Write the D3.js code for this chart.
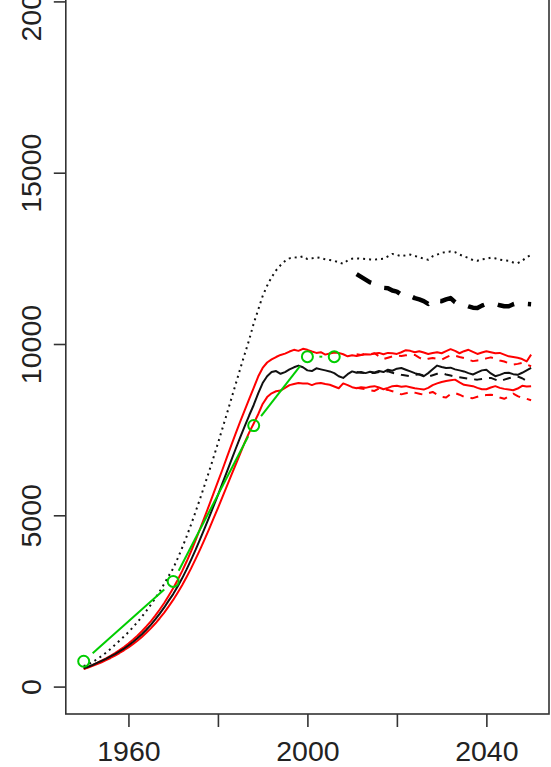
<!DOCTYPE html>
<html>
<head>
<meta charset="utf-8">
<script src="https://cdn.jsdelivr.net/npm/d3@7"></script>
<style>
  html, body { margin: 0; padding: 0; background: #fff; }
  svg { display: block; }
</style>
</head>
<body>
<svg id="chart" width="551" height="767"></svg>
<script>
// ---------- DATA ----------
const yearsAll = d3.range(1950, 2051);      // 1950..2050
const yearsProj = d3.range(2011, 2051);     // 2011..2050

const centralSolid = [
  530, 580, 630, 690, 750, 810, 880, 950, 1030, 1110,
  1200, 1300, 1410, 1530, 1660, 1800, 1960, 2130, 2310, 2510,
  2700, 2920, 3160, 3420, 3700, 3990, 4300, 4610, 4930, 5260,
  5590, 5930, 6270, 6610, 6950, 7280, 7600, 7920, 8220, 8560,
  8860, 9060, 9180, 9210, 9130, 9180, 9260, 9320, 9370, 9320,
  9230, 9210, 9290, 9260, 9230, 9200, 9150, 9060, 9010, 9120,
  9200, 9160, 9180, 9150, 9190, 9170, 9210, 9180, 9250, 9220,
  9280, 9300, 9250, 9200, 9150, 9110, 9060, 9150, 9260, 9370,
  9330, 9300, 9310, 9260, 9230, 9200, 9150, 9110, 9170, 9230,
  9250, 9140, 9060, 9100, 9150, 9160, 9120, 9100, 9160, 9230,
  9300
];

const upperSolid = [
  520, 570, 625, 690, 755, 825, 900, 980, 1065, 1155,
  1255, 1365, 1485, 1615, 1755, 1905, 2070, 2250, 2440, 2650,
  2870, 3110, 3370, 3650, 3950, 4270, 4600, 4940, 5280, 5630,
  5980, 6330, 6690, 7050, 7400, 7740, 8070, 8400, 8720, 9050,
  9300, 9460, 9550, 9620, 9680, 9720, 9780, 9830, 9800, 9860,
  9830, 9780, 9740, 9760, 9690, 9720, 9750, 9740, 9700, 9640,
  9670, 9650, 9680, 9700, 9690, 9720, 9740, 9700, 9740, 9730,
  9710, 9760, 9820, 9800, 9760, 9790, 9750, 9710, 9740, 9760,
  9730, 9790, 9850, 9800, 9730, 9790, 9830, 9770, 9710, 9750,
  9790, 9760, 9730, 9740, 9690, 9640, 9620, 9600, 9560, 9490,
  9690
];

const lowerSolid = [
  510, 555, 605, 655, 710, 770, 835, 905, 980, 1060,
  1145, 1240, 1340, 1450, 1570, 1700, 1840, 1995, 2160, 2340,
  2530, 2740, 2960, 3200, 3450, 3720, 4000, 4290, 4590, 4900,
  5210, 5530, 5850, 6170, 6490, 6810, 7130, 7420, 7680, 7950,
  8250, 8450, 8560, 8620, 8640, 8720, 8800, 8830, 8860, 8850,
  8850, 8800, 8850, 8860, 8830, 8810, 8760, 8710, 8850, 8800,
  8740, 8710, 8740, 8720, 8750, 8770, 8730, 8680, 8720, 8770,
  8780, 8750, 8770, 8740, 8710, 8690, 8670, 8720, 8800, 8850,
  8890, 8920, 8940, 8960, 8880, 8810, 8790, 8770, 8720, 8680,
  8680, 8730, 8770, 8720, 8690, 8670, 8650, 8700, 8780, 8760,
  8770
];

const upperBound = [
  600, 650, 720, 800, 890, 990, 1100, 1220, 1340, 1460,
  1590, 1730, 1880, 2040, 2210, 2390, 2580, 2780, 3000, 3230,
  3450, 3740, 4050, 4380, 4730, 5100, 5480, 5870, 6270, 6680,
  7100, 7530, 7960, 8400, 8840, 9280, 9710, 10130, 10600, 11000,
  11400, 11700, 11950, 12150, 12300, 12420, 12500, 12530, 12520, 12560,
  12480, 12500, 12530, 12510, 12470, 12450, 12430, 12380, 12340, 12440,
  12490, 12500, 12490, 12480, 12470, 12460, 12480, 12490, 12560, 12630,
  12600, 12560, 12590, 12610, 12570, 12530, 12490, 12460, 12560, 12610,
  12660, 12690, 12700, 12680, 12610, 12560, 12510, 12450, 12430, 12470,
  12490, 12520, 12500, 12460, 12440, 12430, 12380, 12360, 12430, 12530,
  12600
];

const centralDashed = [
  9180, 9160, 9150, 9160, 9150, 9180, 9200, 9200, 9160, 9130,
  9100, 9080, 9060, 9100, 9120, 9080, 9050, 9090, 9130, 9150,
  9110, 9080, 9050, 9030, 9010, 8990, 8970, 8960, 8980, 9000,
  9010, 8960, 8910, 8960, 9000, 9030, 9050, 9000, 8920, 8860
];

const upperDashed = [
  9700, 9680, 9720, 9700, 9730, 9640, 9560, 9600, 9640, 9660,
  9650, 9670, 9690, 9680, 9600, 9540, 9570, 9590, 9570, 9540,
  9610, 9670, 9660, 9620, 9590, 9540, 9500, 9520, 9540, 9580,
  9610, 9570, 9520, 9490, 9440, 9400, 9420, 9450, 9400, 9350
];

const lowerDashed = [
  8720, 8700, 8680, 8650, 8630, 8700, 8680, 8660, 8620, 8580,
  8530, 8560, 8600, 8580, 8550, 8520, 8560, 8600, 8520, 8460,
  8440, 8540, 8570, 8520, 8460, 8430, 8420, 8460, 8500, 8510,
  8520, 8500, 8440, 8400, 8470, 8550, 8480, 8420, 8400, 8360
];

const thickDashed = [
  12040, 11960, 11880, 11800, 11760, 11700, 11640, 11630, 11560, 11530,
  11440, 11460, 11400, 11340, 11300, 11250, 11170, 11300, 11260, 11250,
  11300, 11340, 11220, 11150, 11150, 11100, 11060, 11050, 11120, 11170,
  11150, 11170, 11130, 11100, 11100, 11160, 11200, 11180, 11170, 11160
];

const obsYears = [1950, 1970, 1988, 2000, 2006];
const obsValues = [740, 3070, 7620, 9630, 9630];

const xTicks = [1960, 1980, 2000, 2020, 2040];
const xLabels = ["1960", "", "2000", "", "2040"];
const yTicks = [0, 5000, 10000, 15000, 20000];

// ---------- CHART ----------
const svg = d3.select("#chart");
const x = d3.scaleLinear().domain([1946, 2054]).range([65.8, 549]);
const y = d3.scaleLinear().domain([-800, 20800]).range([714, -26]);

const axisColor = "#333";
const font = "'Liberation Sans', Arial, Helvetica, sans-serif";

// box
svg.append("rect")
  .attr("x", x(1946)).attr("y", y(20800))
  .attr("width", x(2054) - x(1946)).attr("height", y(-800) - y(20800))
  .attr("fill", "none").attr("stroke", axisColor).attr("stroke-width", 1.6);

// x axis
const gx = svg.append("g")
  .attr("transform", `translate(0,${y(-800)})`)
  .call(d3.axisBottom(x).tickValues(xTicks).tickSize(13)
        .tickFormat((d, i) => xLabels[i]));
gx.select(".domain").remove();
gx.selectAll(".tick line").attr("stroke", axisColor).attr("stroke-width", 1.6);
gx.selectAll(".tick text")
  .attr("y", 47).attr("dy", 0)
  .attr("fill", "#222")
  .style("font-family", font).style("font-size", "28.5px");

// y axis
const gy = svg.append("g")
  .attr("transform", `translate(${x(1946)},0)`)
  .call(d3.axisLeft(y).tickValues(yTicks).tickSize(12).tickFormat(d3.format("d")));
gy.select(".domain").remove();
gy.selectAll(".tick line").attr("stroke", axisColor).attr("stroke-width", 1.6);
gy.selectAll(".tick text")
  .attr("x", null).attr("dy", null)
  .attr("transform", "translate(-25,0) rotate(-90)")
  .attr("text-anchor", "middle")
  .attr("fill", "#222")
  .style("font-family", font).style("font-size", "28.5px");

// lines
const lineGen = (yrs) => d3.line().x((d, i) => x(yrs[i])).y(d => y(d));
svg.append("defs").append("clipPath").attr("id", "plotclip")
  .append("rect").attr("x", x(1946)).attr("y", y(20800))
  .attr("width", x(2054) - x(1946)).attr("height", y(-800) - y(20800));
const plot = svg.append("g").attr("clip-path", "url(#plotclip)");

function draw(data, yrs, color, width, dash) {
  plot.append("path").datum(data)
    .attr("d", lineGen(yrs))
    .attr("fill", "none")
    .attr("stroke", color)
    .attr("stroke-width", width)
    .attr("stroke-linejoin", "round")
    .attr("stroke-dasharray", dash || null);
}

draw(upperSolid, yearsAll, "#ff0000", 2);
draw(lowerSolid, yearsAll, "#ff0000", 2);
draw(upperDashed, yearsProj, "#ff0000", 2, "8,7");
draw(lowerDashed, yearsProj, "#ff0000", 2, "8,7");
draw(centralSolid, yearsAll, "#111", 2);
draw(centralDashed, yearsProj, "#111", 2, "8,7");
draw(upperBound, yearsAll, "#111", 2, "2,4");
draw(thickDashed, yearsProj, "#000", 4.5, "17,14");

// observed: R type="b" (points with gapped segments)
const green = "#00cd00";
const gap = 12;
for (let i = 0; i < obsYears.length - 1; i++) {
  const x1 = x(obsYears[i]), y1 = y(obsValues[i]);
  const x2 = x(obsYears[i + 1]), y2 = y(obsValues[i + 1]);
  const len = Math.hypot(x2 - x1, y2 - y1);
  if (len <= 2 * gap) continue;
  const ux = (x2 - x1) / len, uy = (y2 - y1) / len;
  plot.append("line")
    .attr("x1", x1 + ux * gap).attr("y1", y1 + uy * gap)
    .attr("x2", x2 - ux * gap).attr("y2", y2 - uy * gap)
    .attr("stroke", green).attr("stroke-width", 2);
}
plot.selectAll("circle.obs").data(obsValues).join("circle")
  .attr("class", "obs")
  .attr("cx", (d, i) => x(obsYears[i]))
  .attr("cy", d => y(d))
  .attr("r", 5.5)
  .attr("fill", "none").attr("stroke", green).attr("stroke-width", 2);
</script>
</body>
</html>
